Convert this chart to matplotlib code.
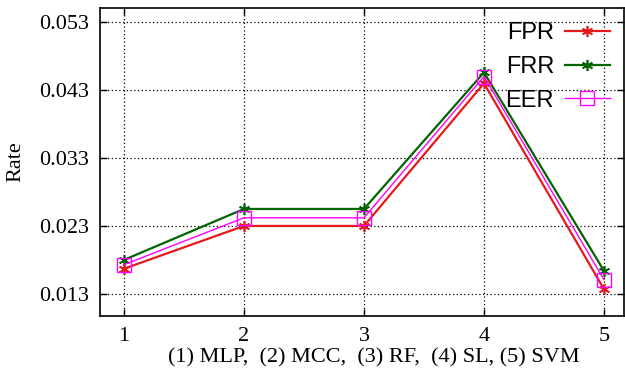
import matplotlib
matplotlib.use("Agg")
import matplotlib.pyplot as plt

x = [1, 2, 3, 4, 5]
fpr = [0.0167, 0.0230, 0.0230, 0.0440, 0.0137]
frr = [0.0180, 0.0255, 0.0255, 0.0456, 0.0164]
eer = [0.0173, 0.0242, 0.0242, 0.0450, 0.0151]
yticks = [0.013, 0.023, 0.033, 0.043, 0.053]
ytick_labels = ["0.013", "0.023", "0.033", "0.043", "0.053"]
xlabel = "(1) MLP,  (2) MCC,  (3) RF,  (4) SL, (5) SVM"

fig = plt.figure(figsize=(6.25, 3.77), dpi=100)
ax = fig.add_axes([0.16, 0.162, 0.838, 0.817])

serif = ["Liberation Serif", "DejaVu Serif"]
sans = ["Liberation Sans", "DejaVu Sans"]

ast = (6, 2, 0)
ax.plot(x, fpr, color="#e41a1c", lw=1.6, marker=ast, ms=8, mew=1.2, label="FPR", zorder=4)
ax.plot(x, frr, color="#006400", lw=1.6, marker=ast, ms=8, mew=1.2, label="FRR", zorder=3)
ax.plot(x, eer, color="#ff00ff", lw=1.0, marker="s", ms=10, mfc="none", mew=1.0, label="EER", zorder=5)

ax.set_xlim(0.8, 5.165)
ax.set_ylim(0.00975, 0.0551)
ax.set_xticks(x)
ax.set_xticklabels([str(v) for v in x], fontfamily=serif, fontsize=16)
ax.set_yticks(yticks)
ax.set_yticklabels(ytick_labels, fontfamily=serif, fontsize=16)
ax.tick_params(direction="in", top=True, right=True, length=5, width=1, pad=8)
ax.grid(True, color="black", linestyle=(0, (1, 2)), linewidth=0.9)
for s in ax.spines.values():
    s.set_linewidth(1.2)

ax.set_ylabel("Rate", fontfamily=serif, fontsize=16, labelpad=10)
ax.set_xlabel(xlabel, fontfamily=serif, fontsize=16, labelpad=4)
ax.xaxis.set_label_coords(0.522, -0.105, transform=ax.transAxes)
ax.xaxis.label.set_va("top")

leg = ax.legend(loc="upper right", markerfirst=False, frameon=False,
                prop={"family": sans, "size": 17}, handlelength=1.9,
                handletextpad=0.45, labelspacing=0.5, borderaxespad=0.2)

fig.savefig("out.png", dpi=100)
